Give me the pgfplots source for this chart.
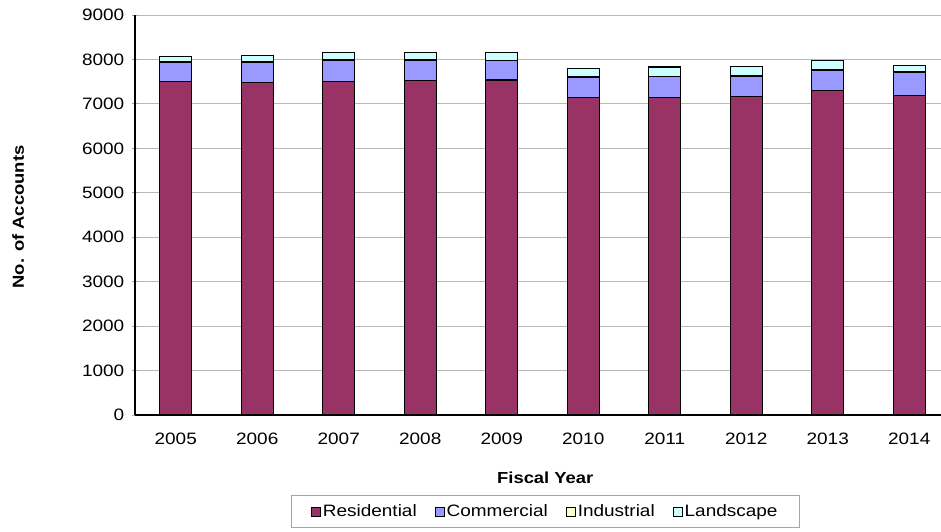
\documentclass[border=0pt]{standalone}
\usepackage{pgfplots}
\pgfplotsset{compat=1.18}
\usepackage{fontspec}
\setmainfont{Liberation Sans}[FakeStretch=1.15]
\definecolor{resi}{HTML}{993366}
\definecolor{comm}{HTML}{9999FF}
\definecolor{indu}{HTML}{FFFFCC}
\definecolor{land}{HTML}{CCFFFF}
\begin{document}
\fontsize{16.5}{19}\selectfont
\begin{tikzpicture}
\useasboundingbox (-135pt,-116pt) rectangle (806pt,415pt);
\begin{axis}[
    at={(0,0)}, anchor=south west,
    scale only axis,
    width=806pt, height=400pt,
    ybar stacked,
    bar width=32pt,
    xmin=-0.5, xmax=9.39,
    ymin=0, ymax=9000,
    ytick={0,1000,...,9000},
    xtick={0,...,9},
    xticklabels={2005,2006,2007,2008,2009,2010,2011,2012,2013,2014},
    extra x ticks={-0.5,0.5,...,9.5},
    extra x tick labels={},
    extra x tick style={major tick length=6pt, tick style={gray!70, line width=0.8pt}},
    x tick style={draw=none},
    major tick length=6pt,
    tick align=outside,
    y tick style={gray!70, line width=0.8pt},
    axis x line=bottom, axis y line=left,
    axis line style={-, black, line width=1.3pt},
    ymajorgrids,
    grid style={gray!55, line width=0.8pt},
    /pgf/number format/assume math mode=true,
    /pgf/number format/1000 sep={},
    ticklabel style={font=\fontsize{16.5}{19}\selectfont},
    xticklabel style={yshift=-9pt},
    yticklabel style={xshift=-2pt},
    xlabel={\textbf{Fiscal Year}},
    ylabel={\textbf{No. of Accounts}},
    xlabel style={at={(axis description cs:0.509,-0.158)}, anchor=center},
    ylabel style={at={(axis description cs:-0.145,0.495)}, anchor=center, rotate=0},
    label style={font=\fontsize{16}{19}\selectfont},
    legend columns=4,
    legend style={at={(axis description cs:0.509,-0.2)}, anchor=north,
        draw=gray!70, line width=0.8pt, font=\fontsize{16.5}{19}\selectfont,
        inner xsep=20pt, inner ysep=7pt,
        /tikz/every even column/.append style={column sep=16pt}},
    legend image code/.code={\draw[#1, draw=black, line width=0.9pt] (0pt,-4.5pt) rectangle (9pt,4.5pt);},
    every axis plot/.append style={draw=black, line width=1.4pt},
]
\addplot[fill=resi] coordinates {(0,7500) (1,7480) (2,7500) (3,7530) (4,7540) (5,7150) (6,7150) (7,7170) (8,7300) (9,7190)};
\addplot[fill=comm] coordinates {(0,430) (1,460) (2,490) (3,450) (4,430) (5,450) (6,460) (7,450) (8,460) (9,530)};
\addplot[fill=indu] coordinates {(0,10) (1,10) (2,10) (3,10) (4,10) (5,10) (6,10) (7,10) (8,10) (9,10)};
\addplot[fill=land] coordinates {(0,120) (1,140) (2,150) (3,170) (4,170) (5,190) (6,210) (7,210) (8,200) (9,130)};
\legend{Residential,Commercial,Industrial,Landscape}
\end{axis}
\end{tikzpicture}
\end{document}
